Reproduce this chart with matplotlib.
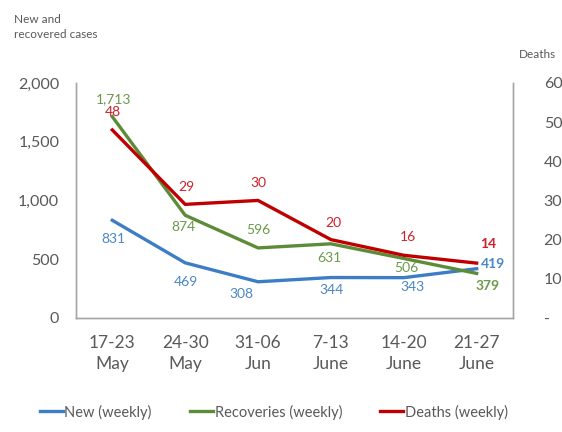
import matplotlib
matplotlib.use('Agg')
import matplotlib.pyplot as plt
from matplotlib.ticker import FuncFormatter

weeks = ['17-23\nMay', '24-30\nMay', '31-06\nJun', '7-13\nJune', '14-20\nJune', '21-27\nJune']
new_cases = [831, 469, 308, 344, 343, 419]
recoveries = [1713, 874, 596, 631, 506, 379]
deaths = [48, 29, 30, 20, 16, 14]

# label offsets in pixels (dx, dy)
new_off = [(1, -19), (1, -19), (-17, -12), (1, -12), (9, -9), (16, 5)]
rec_off = [(1, 18), (-2, -12), (0, 18), (-2, -14), (3, -10), (11, -13)]
dea_off = [(1, 18), (1, 17), (0, 17), (2, 17), (4, 18), (11, 19)]

BLUE = '#3D7DC6'
GREEN = '#5C8C38'
RED = '#C00000'
GREY = '#595959'

plt.rcParams['font.family'] = ['Lato', 'DejaVu Sans']

fig = plt.figure(figsize=(5.62, 4.32), dpi=100)
ax = fig.add_axes([0.135, 0.264, 0.778, 0.544])
ax2 = ax.twinx()

x = list(range(len(weeks)))
ax.plot(x, new_cases, color=BLUE, lw=2.4, label='New (weekly)')
ax.plot(x, recoveries, color=GREEN, lw=2.4, label='Recoveries (weekly)')
ax2.plot(x, deaths, color=RED, lw=2.4, label='Deaths (weekly)')

ax.set_xlim(-0.5, 5.5)
ax.set_ylim(0, 2000)
ax2.set_ylim(0, 60)
ax.set_yticks([0, 500, 1000, 1500, 2000])
ax2.set_yticks([0, 10, 20, 30, 40, 50, 60])
ax.yaxis.set_major_formatter(FuncFormatter(lambda v, p: f'{int(v):,}'))
ax2.yaxis.set_major_formatter(FuncFormatter(lambda v, p: '-' if v == 0 else f'{int(v)}'))
ax.set_xticks(x)
ax.set_xticklabels(weeks, fontsize=12.5, linespacing=1.45)

for a in (ax, ax2):
    a.spines['top'].set_visible(False)
    for s in ('left', 'right', 'bottom'):
        a.spines[s].set_color('#A6A6A6')
        a.spines[s].set_linewidth(1.0)
    a.tick_params(length=0, colors=GREY)
ax.tick_params(axis='y', pad=12, labelsize=11.5)
ax2.tick_params(axis='y', pad=22, labelsize=11.5)
ax.tick_params(axis='x', pad=12)
for lbl in ax2.get_yticklabels():
    lbl.set_horizontalalignment('left')

last = len(weeks) - 1
for series, offs, col, axis in [(new_cases, new_off, '#4A86C8', ax),
                                (recoveries, rec_off, '#6A9A48', ax),
                                (deaths, dea_off, '#D0202A', ax2)]:
    for i, v in enumerate(series):
        axis.annotate(f'{v:,}', (i, v), xytext=offs[i], textcoords='offset pixels',
                      ha='center', va='center', fontsize=10, color=col,
                      fontweight='bold' if i == last else 'normal')

fig.text(14 / 562, 1 - 14 / 432, 'New and\nrecovered cases', ha='left', va='top',
         fontsize=8.5, color=GREY, linespacing=1.4)
fig.text(519 / 562, 1 - 54 / 432, 'Deaths', ha='left', va='center',
         fontsize=8.5, color=GREY)

handles = ax.get_lines() + ax2.get_lines()
fig.legend(handles, [h.get_label() for h in handles], loc='center',
           bbox_to_anchor=(0.487, 1 - 412 / 432), ncol=3, frameon=False,
           fontsize=10.5, handlelength=1.6, handletextpad=0.1, columnspacing=2.6,
           labelcolor=GREY)

plt.savefig('out.png', dpi=100)
plt.close()
